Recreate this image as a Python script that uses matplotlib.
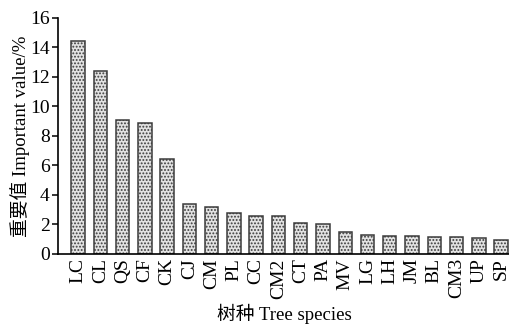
"""Importance value of tree species, stippled bar chart."""

import matplotlib

matplotlib.use("Agg")
import matplotlib.pyplot as plt
import numpy as np

plt.rcParams["font.family"] = ["Liberation Serif", "Noto Sans CJK SC"]
plt.rcParams["hatch.color"] = "#7a7a7a"
plt.rcParams["hatch.linewidth"] = 0.9

species = ["LC", "CL", "QS", "CF", "CK", "CJ", "CM", "PL", "CC", "CM2",
           "CT", "PA", "MV", "LG", "LH", "JM", "BL", "CM3", "UP", "SP"]
importance = [14.42, 12.41, 9.05, 8.87, 6.41, 3.4, 3.2, 2.8, 2.6, 2.58,
              2.09, 2.0, 1.5, 1.3, 1.24, 1.24, 1.13, 1.13, 1.06, 0.97]
y_ticks = [0, 2, 4, 6, 8, 10, 12, 14, 16]

fig = plt.figure(figsize=(5.1, 3.26), dpi=100)
ax = fig.add_axes([58 / 510, 1 - 254 / 326, 452 / 510, (254 - 17.7) / 326])

x = np.arange(len(species))
ax.bar(x, importance, width=0.6, color="#e2e2e2", edgecolor="#3c3c3c",
       linewidth=1.1, hatch=".....")

ax.set_xlim(-0.9, 19.4)
ax.set_ylim(0, 16)
ax.set_yticks(y_ticks)
ax.set_xticks(x)
ax.set_xticklabels(species, rotation=90, fontsize=14)
ax.tick_params(axis="y", labelsize=14, direction="out", length=4, width=1.1, pad=2)
ax.tick_params(axis="x", length=0, pad=3)

ax.spines["top"].set_visible(False)
ax.spines["right"].set_visible(False)
ax.spines["left"].set_linewidth(1.2)
ax.spines["bottom"].set_linewidth(1.2)

ax.set_ylabel("重要值 Important value/%", fontsize=13.5, labelpad=0)
ax.set_xlabel("树种 Tree species", fontsize=13.5, labelpad=4)

fig.savefig("out.png", dpi=100)
